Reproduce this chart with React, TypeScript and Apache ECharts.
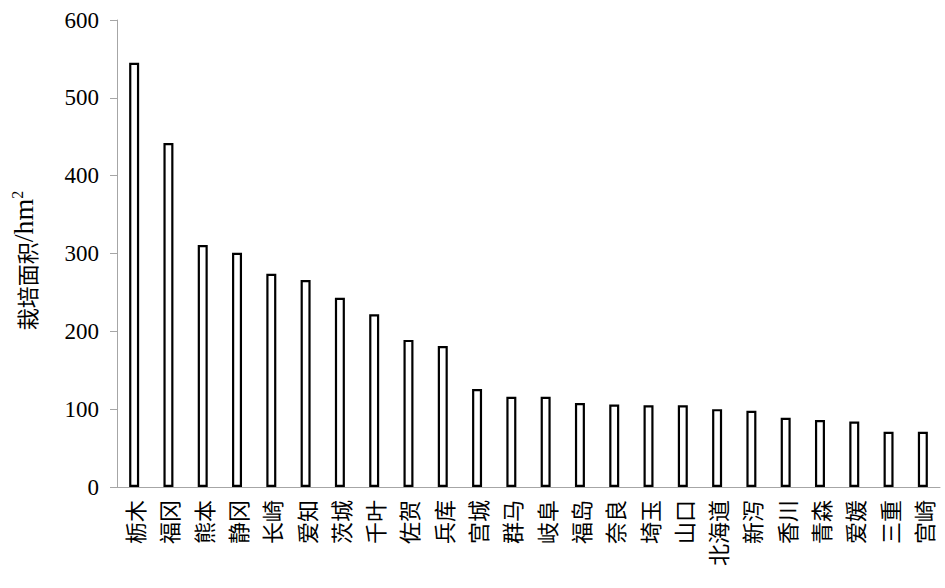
import React, { useEffect, useRef } from "react";
import * as echarts from "echarts";

const categories = ["栃木", "福冈", "熊本", "静冈", "长崎", "爱知", "茨城", "千叶", "佐贺", "兵库", "宫城", "群马", "岐阜", "福岛", "奈良", "埼玉", "山口", "北海道", "新泻", "香川", "青森", "爱媛", "三重", "宫崎"];
const areaValues = [545, 442, 311, 301, 274, 266, 243, 222, 189, 181, 126, 116, 116, 108, 106, 105, 105, 100, 98, 89, 86, 84, 71, 71];
const yAxisName = "{a|栽培面积}{b|/hm}{c|2}";

export default function App() {
  const ref = useRef<HTMLDivElement>(null);
  useEffect(() => {
    if (!ref.current) return;
    const chart = echarts.init(ref.current, null, { renderer: "svg" });
    chart.setOption({
      animation: false,
      grid: { left: 117, right: 5, top: 20, bottom: 101, containLabel: false, outerBoundsMode: "none" },
      xAxis: {
        type: "category",
        data: categories,
        axisLine: { lineStyle: { color: "#a6a6a6", width: 1 } },
        axisTick: { inside: true, length: 7, lineStyle: { color: "#c8c8c8" } },
        axisLabel: {
          rotate: 90,
          interval: 0,
          margin: 13,
          color: "#000",
          fontSize: 22,
          fontFamily: "Noto Sans CJK SC",
        },
      },
      yAxis: {
        type: "value",
        min: 0,
        max: 600,
        interval: 100,
        name: yAxisName,
        nameLocation: "middle",
        nameGap: 80,
        nameTextStyle: {
          color: "#000",
          padding: [0, 14, 0, 0],
          rich: {
            a: { fontSize: 22, fontFamily: "Noto Sans CJK SC", color: "#000", lineHeight: 28, verticalAlign: "bottom" },
            b: { fontSize: 28, fontFamily: "Liberation Serif", color: "#000", lineHeight: 28, verticalAlign: "bottom" },
            c: { fontSize: 16, fontFamily: "Liberation Serif", color: "#000", lineHeight: 28, verticalAlign: "top" },
          },
        },
        axisLine: { show: true, lineStyle: { color: "#a6a6a6", width: 1 } },
        axisTick: { show: true, length: 7, lineStyle: { color: "#a6a6a6" } },
        splitLine: { show: false },
        axisLabel: {
          color: "#000",
          fontSize: 23,
          margin: 18,
          fontFamily: "Liberation Serif",
        },
      },
      series: [
        {
          type: "bar",
          data: areaValues,
          barWidth: 10,
          itemStyle: { color: "#fff", borderColor: "#000", borderWidth: 2.2 },
        },
      ],
    });
    return () => chart.dispose();
  }, []);
  return <div ref={ref} style={{ width: 945, height: 588, position: "absolute", left: 0, top: 0, background: "#fff" }} />;
}
